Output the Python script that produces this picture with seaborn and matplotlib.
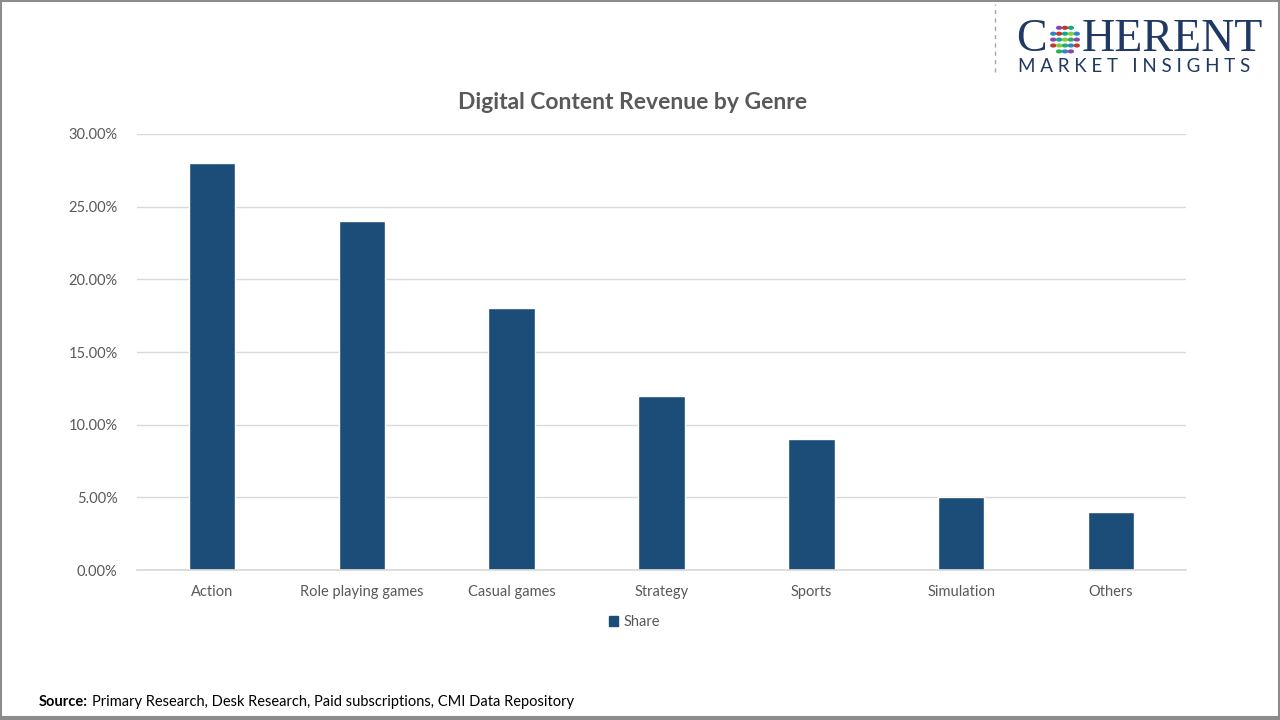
import matplotlib
matplotlib.use("Agg")
import matplotlib.pyplot as plt
import matplotlib.patches as mpatches
import matplotlib.lines as mlines
import pandas as pd
import seaborn as sns
from matplotlib.ticker import PercentFormatter

# chart data
genres = ["Action", "Role playing games", "Casual games", "Strategy",
          "Sports", "Simulation", "Others"]
share = [28.0, 24.0, 18.0, 12.0, 9.0, 5.0, 4.0]
yticks = [0, 5, 10, 15, 20, 25, 30]

df = pd.DataFrame({"Genre": genres, "Share": share})

sns.set_theme(style="white")
plt.rcParams["font.family"] = ["Lato", "DejaVu Sans"]

bar_color = "#1B4D78"
text_color = "#595959"

fig = plt.figure(figsize=(12.8, 7.2), dpi=100)
ax = fig.add_axes([0.107, 0.2083, 0.8196, 0.6056])

sns.barplot(data=df, x="Genre", y="Share", color=bar_color, width=0.31,
            saturation=1, ax=ax)

ax.set_ylim(0, 30)
ax.set_yticks(yticks)
ax.yaxis.set_major_formatter(PercentFormatter(decimals=2))
ax.set_xlim(-0.5, len(genres) - 0.5)
ax.grid(axis="y", color="#D9D9D9", linewidth=1)
ax.set_axisbelow(True)
for s in ["top", "right", "left"]:
    ax.spines[s].set_visible(False)
ax.spines["bottom"].set_color("#D9D9D9")
ax.tick_params(axis="both", length=0, labelsize=10.5, colors=text_color, pad=11)
ax.tick_params(axis="y", pad=14)
ax.set_xlabel("")
ax.set_ylabel("")

fig.text(0.494, 0.858, "Digital Content Revenue by Genre", ha="center",
         va="center", fontsize=16.5, fontweight="bold", color=text_color)

# legend
handle = mpatches.Patch(color=bar_color, label="Share")
fig.legend(handles=[handle], loc="center", bbox_to_anchor=(0.496, 0.136),
           frameon=False, fontsize=10.5, handlelength=0.6, handleheight=0.6,
           handletextpad=0.4, labelcolor=text_color)

# source note
fig.text(0.030, 0.025, "Source:", fontsize=10.5, fontweight="bold",
         color="black", va="center")
fig.text(0.072, 0.025,
         "Primary Research, Desk Research, Paid subscriptions, CMI Data Repository",
         fontsize=10.5, color="black", va="center")

# logo
navy = "#1F3864"
fig.text(1016 / 1280, 0.945, "C", fontsize=33, family="Liberation Serif",
         color=navy, va="center", ha="left")
fig.text(1082 / 1280, 0.945, "HERENT", fontsize=33, family="Liberation Serif",
         color=navy, va="center", ha="left")
fig.text(1018 / 1280, 0.907, "M A R K E T   I N S I G H T S", fontsize=13.5,
         color=navy, va="center", ha="left")
dot_colors = ["#C0392B", "#8E44AD", "#2E86C1", "#27AE60", "#7DCE3F", "#17A589"]
cx, cy = 1065 / 1280, 0.945
k = 0
for i in range(-2, 3):
    for j in range(-2, 3):
        if abs(i) + abs(j) > 3:
            continue
        fig.add_artist(mpatches.Circle((cx + i * 0.0046, cy + j * 0.0082),
                                       0.0019, transform=fig.transFigure,
                                       color=dot_colors[k % len(dot_colors)]))
        k += 1
fig.add_artist(mlines.Line2D([0.7773, 0.7773], [0.9, 0.995],
                             transform=fig.transFigure, color="#A6A6A6",
                             linestyle=(0, (3, 3)), linewidth=1))

# frame
fig.add_artist(mpatches.Rectangle((0.001, 0.004), 0.998, 0.994,
                                  transform=fig.transFigure, fill=False,
                                  edgecolor="#8C8C8C", linewidth=1.5))
fig.add_artist(mlines.Line2D([0, 1], [0.001, 0.001], transform=fig.transFigure,
                             color="#8C8C8C", linewidth=1.5))

fig.savefig("out.png", dpi=100)
